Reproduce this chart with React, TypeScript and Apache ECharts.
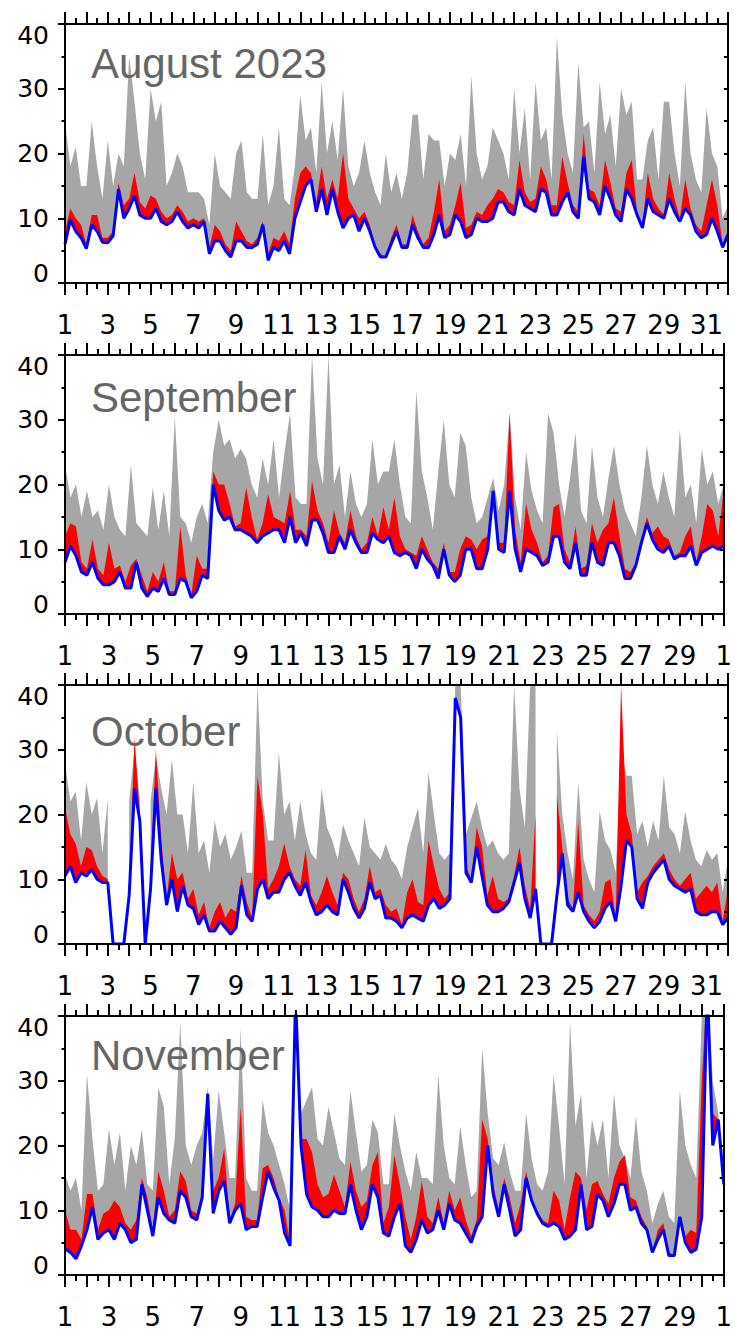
import React, { useEffect, useRef } from 'react';
import * as echarts from 'echarts';

const monthTitles = ['August 2023', 'September', 'October', 'November'];
const monthDays = [31, 30, 31, 30];
const samplesPerDay = 4;

// ---- August (values every 6 h, day 1 .. day 32) ----
const augGray = [
  25,18,21,15, 15,25,18,13, 22,15,20,18, 35,28,20,16,
  30,25,28,15, 17,20,18,14, 14,14,13,9, 20,15,14,13,
  20,22,14,13, 13,23,12,15, 24,13,12,18, 29,22,24,17,
  31,20,25,19, 30,18,15,17, 22,17,14,12, 20,14,17,13,
  17,26,26,16, 23,22,22,15, 20,19,23,15, 32,20,16,18,
  24,22,20,16, 30,20,27,16, 31,22,24,16, 38,26,20,17,
  34,24,25,17, 31,23,26,18, 30,26,28,16, 16,22,24,16,
  28,28,20,15, 31,20,16,14, 27,20,18,10, 12,
];
const augRed = [
  8,11.5,10,9, 6,10.5,10.5,7, 7,8,15.5,12, 13,17,12.5,11.5,
  13.5,13,11,10, 10.5,12,11,9.5, 10,9.5,10,5.5, 9,8,6,5,
  9.5,8,6.5,6, 7,9.5,4.5,7, 6.5,8,6,13, 17,18,17,12.5,
  18,13,16,13, 20,13,11.5,10, 11,9,6,4.5, 4,7,9,6,
  6,10.5,8,6, 7,11,16,8, 9,12,15.5,8.5, 9,11,10.5,12,
  13,14.5,14,12.5, 12,19,14,12.5, 13,18,16,12, 12,19.5,15.5,12,
  11,23,14.5,14, 12,19,15.5,11.5, 11,17,19,11, 9,17,13,11.5,
  10.5,17,13,10, 16,11.5,9,8, 12,16,12,6, 8,
];
const augBlue = [
  6,9.7,8,7, 5.3,9,8,6.3, 6.2,7.3,14.5,10, 11.5,13.5,10.5,10,
  10,11.5,9.5,9, 9.5,11,9.5,8.5, 9,8.5,9.5,4.5, 6.5,6.5,5,4,
  6.5,6.5,5.5,5.5, 6,9,3.5,5.5, 5,6.5,4.5,10, 12.5,15,16,11,
  14.5,10.5,14.5,11, 8.5,10,10.5,8, 10,8,5.5,4, 4,6,8,5.5,
  5.5,9,7,5.5, 5.5,7.5,10.5,7, 7.5,10.5,9.5,7, 7.5,10,9.5,9.5,
  10,12.5,12.5,11, 10.5,14.5,12,11.5, 11,14.5,14,10.5, 10.5,12.5,14,11,
  10,19.5,13,12.5, 10.5,15,13,10.5, 9.5,14.5,13,10.5, 8.5,13,11,10.5,
  10,13,11,9.5, 11.5,10.5,8,7, 7.5,10,8,5.5, 7.5,
];

// ---- September (day 1 .. day 31 = Oct 1) ----
const sepGray = [
  23,18,20,15, 19,15,16,13, 20,15,13,12, 23,14,13,12,
  19.5,13,19,12, 30.5,15,14,11, 15,17,14,25, 30,26,27,24,
  25.5,24,20,18, 24,20,27,18, 25,31,18,17, 17,40,24,20,
  40,20,23,15, 22,17,15,17, 27,20,22,22, 27,20,15,14,
  34.5,22,18,13, 22,30,20,18, 28,26,18,14, 15,18,21,16,
  20,31,18,13, 25,19,16,14, 31,28,20,15, 21,28,16,14,
  26,18,15,21, 26,20,16,14, 12,18,26,20, 17,22,18,15,
  28.5,18,20,14, 25.5,20,22,17, 20,
];
const sepRed = [
  12,14,13.5,8, 7,11.5,7,6, 11,7,7.5,5, 7.5,8.5,6,3.5,
  6.5,5,8,3.5, 3.5,13.5,6,3, 9,7,7,22, 20,20,17,13.5,
  14,19.5,15,11.5, 14,18.5,15,14.5, 14,19,13,13, 12,20.5,16,14,
  11,16,12.5,11, 16,12,10,11, 15,12,16.5,13, 18,12,10,9.5,
  9,12,10,8, 7,11,6.5,6.5, 10,12,11.5,10, 11.5,12,19.5,11,
  11,31,13,8, 17,13,11,8, 9,16.5,17,10, 8,13.5,7,7.5,
  14,11,13,14, 18,12,7,6.5, 8,11.5,15,12.5, 13.5,12,11.5,9,
  9.5,12,13.5,8, 12,17,16,12, 19,
];
const sepBlue = [
  8,10.5,9,6.5, 6,8,5.5,4.5, 4.5,5,6.5,4, 4,8,4,2.7,
  4,3.5,5.5,3, 3,5.5,5,2.5, 3.5,6,5.5,20, 16,14.5,15,13,
  13,12.5,12,11, 12,12.5,13,13, 11,15,11,12.5, 10.5,14.5,14.5,12.5,
  9.5,9.5,12,10, 13,11,9.5,9.5, 12.5,11.5,11,12, 9.5,9,9.5,9,
  7,10,8.5,7.5, 5.5,10,6,5, 6,10,10,7, 7,10,19,10,
  9.5,19,10,6.5, 10,9.5,9,7.5, 8,12,12,8, 7,11,6,6,
  11,8,7.5,11, 11,9,5.5,5.5, 7.5,11,14,11.5, 10,9.5,10.5,8.5,
  9,9,10.5,7.5, 9.5,10,10.5,10, 10.5,
];

// ---- October (day 1 .. day 32), null = no data ----
const octGray = [
  28,22,23.5,16, 25,20,22.5,14, 22.5,null,null,null, 22,30,22,null,
  22,29,24,20, 28.5,20,20,14, 25,14,16,11, 19,15,17,13,
  15,17.5,11,11, 40,22,16,16, 29.5,20,22,16, 22,17,14,13,
  24,18,16,13, 18.5,16,14,12, 19.5,15,14,13, 15.5,13,12,10,
  15,18,21,14, 26.5,20,14,13, 14,40,40,17, 19.5,22,18,15,
  16,14,13,14, 40,24,18,40, 40,null,null,null, 33,20,14,10,
  25,13,10,8, 20.5,16,14.5,11, 30,26,26,17, 19,15,19,16,
  26,18,17,14, 20.5,16,13,12, 14.5,13,14,8, 13,
];
const octRed = [
  21,17,15.5,12, 15,14.5,12,10.5, 10,null,null,null, 8,32,20,null,
  11,30,16,7, 14,10,11,7, 8.5,4.5,6.5,2.5, 5,6.5,4,5.5,
  5,10.5,6.5,4, 26,20,8.5,10, 12,15.5,12,10, 9,14.5,7.5,6,
  8,10.5,8,6, 11,10,7,5, 7,12,8,8.5, 6,5,5.5,3,
  8,10,6.5,6, 16,12,8.5,7, 8,20,20,12, 10,18,15,7.5,
  10.5,7,6.5,7, 10.5,15,9,5.5, 20,null,null,null, 23,15,7,5.5,
  19,6,4.5,3.5, 5,9.5,10,4, 40,20,17,8, 9.5,10.5,12,13,
  14,11.5,10,9, 10,11,7,8, 9,8,9.5,3.5, 8.5,
];
const octBlue = [
  10.5,12,9.5,11, 10.5,11.5,10,9.5, 9.5,0,0,0, 7.5,24,19,0,
  8.5,24,13,6, 10,5,9,6, 5.5,3,4.5,2, 2,3.5,2.5,1.5,
  2.5,9,4.5,3.5, 8.5,10,7,8, 8,10,11,9, 7.5,9.5,6.5,4.5,
  5,6,5,4.5, 10,8,5.5,4, 5.5,9.5,7,7.5, 4,4,3.5,2.5,
  4,4.5,4,3.5, 6,7,5.5,6, 7,38,35,11, 9.5,15,10.5,6,
  5,5,5.5,6.5, 9.5,12.5,7,4, 8.5,0,0,0, 7.5,14,6,5,
  8,5,3.5,2.5, 3.5,5.5,6.5,3.5, 9,16,15,7, 5.5,9.5,11,12,
  13,10,9,8.5, 8,8.5,5,4.5, 4.5,5,5,3, 4,
];

// ---- November (day 1 .. day 31 = Dec 1) ----
const novGray = [
  15.5,13,15,10, 31,21,13,14, 22.5,17,22,13, 20,17,22.5,14,
  13,29,26,14, 21,39,20,17, 20,22,29,18, 28.5,22,15,15,
  38,15,13,13, 27,22,20,17, 14,10,38,25, 27,29,21,20,
  26,22,18,17, 28.5,22,16,17, 24,22,14,14, 25,20,16,13,
  19,15,15,14, 31,20,15,14, 23,17,12,13, 35,25,18,17,
  20.5,16,13,13, 25,18,14,13, 16,31,23,14, 39,23,28,15,
  24,20,24,15, 28,20,18,15, 24.5,16,13,8, 11,13,9,8,
  28.5,20,17,15, 40,45,30,25, 17,
];
const novRed = [
  10,7,7,5.5, 12.5,12.5,7,9.5, 10,11.5,10.5,8, 7,8.5,15,12,
  7,16,13,9, 10,16,14.5,10, 9.5,12.5,28,13, 15,19.5,8.5,11,
  26,9,8.5,8.5, 16.5,17,15,12, 10,5,35,21, 21,19,14,12,
  12.5,15.5,13,10.5, 17.5,13,10.5,11.5, 17,19,8,10.5, 18.5,14,9,5.5,
  9,14.5,9,8, 12,8,13,10, 12,8.5,6,8.5, 24,21,14,10,
  15,12,8,11, 16,12,10,8.5, 8,13,11.5,7, 12,16,15,10,
  14,14.5,12.5,11, 15,17.5,18.5,12, 11.5,9,7.5,3.5, 7,8,3.5,3,
  9,6,7,6.5, 30,45,25,24, 15,
];
const novBlue = [
  4,3.5,2.5,4.5, 7,10.5,5.5,6.5, 7,5.5,8,7, 5,5.5,14,10,
  6,12,9.5,8.5, 8,13,12,9, 8.5,12,28,9.5, 13,14.5,8,10,
  11,7,7.5,7.5, 12,16,13.5,11.5, 6.5,4.5,43,20, 12.5,10.5,10,9,
  9,10,9.5,9.5, 14,10,7,9, 14,12,6.5,6, 9,11,4.5,3.5,
  5.5,8.5,6.5,7, 10,7,11,8.5, 8,6.5,5,7.5, 9,20,12.5,9,
  14,10,6,7, 15,11.5,9.5,8, 7.5,8,7.5,5.5, 6,7,14,7,
  7.5,12.5,11.5,9, 11,14,14,10, 10.5,8,7,3.5, 5.5,7,3,3,
  9,5,3.5,4, 9,45,20,24, 14,
];

const FONT = '"Liberation Sans", Arial, Helvetica, sans-serif';
const TICK_FONT = '"DejaVu Sans", "Liberation Sans", Arial, sans-serif';

function toPairs(arr: (number | null)[]) {
  return arr.map((v, i) => [1 + i / samplesPerDay, v === null ? '-' : v]);
}

export default function App() {
  const ref = useRef<HTMLDivElement>(null);

  useEffect(() => {
    document.body.style.margin = '0';
    const chart = echarts.init(ref.current!, null, { renderer: 'svg' });

    const grays = [augGray, sepGray, octGray, novGray];
    const reds = [augRed, sepRed, octRed, novRed];
    const blues = [augBlue, sepBlue, octBlue, novBlue];
    const tops = [24, 355, 685, 1016];
    const titleY = [63, 397, 731, 1055];

    const grids: any[] = [];
    const xAxes: any[] = [];
    const yAxes: any[] = [];
    const series: any[] = [];
    const black = '#000000';

    monthDays.forEach((days, i) => {
      grids.push({ left: 65, width: 663, top: tops[i], height: 259 });
      const xCommon = {
        type: 'value',
        gridIndex: i,
        min: 1,
        max: days + 1,
        interval: 1,
        z: 5,
        splitLine: { show: false },
        axisLine: { show: true, onZero: false, lineStyle: { color: black, width: 2 } },
        axisTick: { show: true, inside: false, length: 12, lineStyle: { color: black, width: 2 } },
        minorTick: { show: true, splitNumber: 2, length: 6, lineStyle: { color: black, width: 2 } },
      };
      xAxes.push({
        ...xCommon,
        position: 'bottom',
        axisLabel: {
          show: true,
          fontSize: 26,
          lineHeight: 26,
          fontFamily: TICK_FONT,
          color: black,
          margin: 29,
          formatter: (v: number) => {
            const d = Math.round(v);
            if (d % 2 === 0) return '';
            return String(d > days ? d - days : d);
          },
        },
      });
      xAxes.push({ ...xCommon, position: 'top', axisLabel: { show: false } });

      const richBase = { fontSize: 25, fontFamily: TICK_FONT, color: black };
      yAxes.push({
        type: 'value',
        gridIndex: i,
        min: 0,
        max: 40,
        interval: 10,
        position: 'left',
        z: 5,
        splitLine: { show: false },
        axisLine: { show: true, lineStyle: { color: black, width: 2 } },
        axisTick: { show: true, inside: false, length: 7, lineStyle: { color: black, width: 2 } },
        minorTick: { show: true, splitNumber: 2, length: 3.5, lineStyle: { color: black, width: 2 } },
        axisLabel: {
          show: true,
          margin: 16,
          fontSize: 25,
          fontFamily: TICK_FONT,
          color: black,
          formatter: (v: number) => (v === 40 ? '{t|40}' : v === 0 ? '{b|0}' : '{m|' + v + '}'),
          rich: {
            t: { ...richBase, padding: [22, 0, 0, 0] },
            b: { ...richBase, padding: [0, 0, 20, 0] },
            m: { ...richBase },
          },
        },
      });
      yAxes.push({
        type: 'value',
        gridIndex: i,
        min: 0,
        max: 40,
        interval: 5,
        position: 'right',
        z: 5,
        splitLine: { show: false },
        axisLine: { show: true, lineStyle: { color: black, width: 2 } },
        axisTick: { show: true, inside: true, length: 4, lineStyle: { color: black, width: 2 } },
        axisLabel: { show: false },
      });

      const base = {
        type: 'line',
        xAxisIndex: 2 * i,
        yAxisIndex: 2 * i,
        symbol: 'none',
        showSymbol: false,
        silent: true,
        clip: true,
      };
      series.push({
        ...base,
        name: 'gray' + i,
        data: toPairs(grays[i]),
        lineStyle: { width: 0 },
        areaStyle: { color: '#a6a6a6', opacity: 1 },
        z: 1,
      });
      series.push({
        ...base,
        name: 'red' + i,
        data: toPairs(reds[i]),
        lineStyle: { width: 0 },
        areaStyle: { color: '#ff0000', opacity: 1 },
        z: 2,
      });
      series.push({
        ...base,
        name: 'base' + i,
        data: toPairs(blues[i]),
        lineStyle: { width: 0 },
        areaStyle: { color: '#ffffff', opacity: 1 },
        z: 3,
      });
      series.push({
        ...base,
        name: 'blue' + i,
        data: toPairs(blues[i]),
        lineStyle: { width: 3, color: '#0000ff' },
        z: 4,
      });
    });

    chart.setOption({
      animation: false,
      backgroundColor: '#ffffff',
      grid: grids,
      xAxis: xAxes,
      yAxis: yAxes,
      series,
      graphic: monthTitles.map((t, i) => ({
        type: 'text',
        x: 91,
        y: titleY[i],
        z: 100,
        silent: true,
        style: {
          text: t,
          fill: '#666666',
          fontSize: 42,
          fontFamily: FONT,
          verticalAlign: 'middle',
        },
      })),
    });

    return () => chart.dispose();
  }, []);

  return <div ref={ref} style={{ width: 735, height: 1332 }} />;
}
